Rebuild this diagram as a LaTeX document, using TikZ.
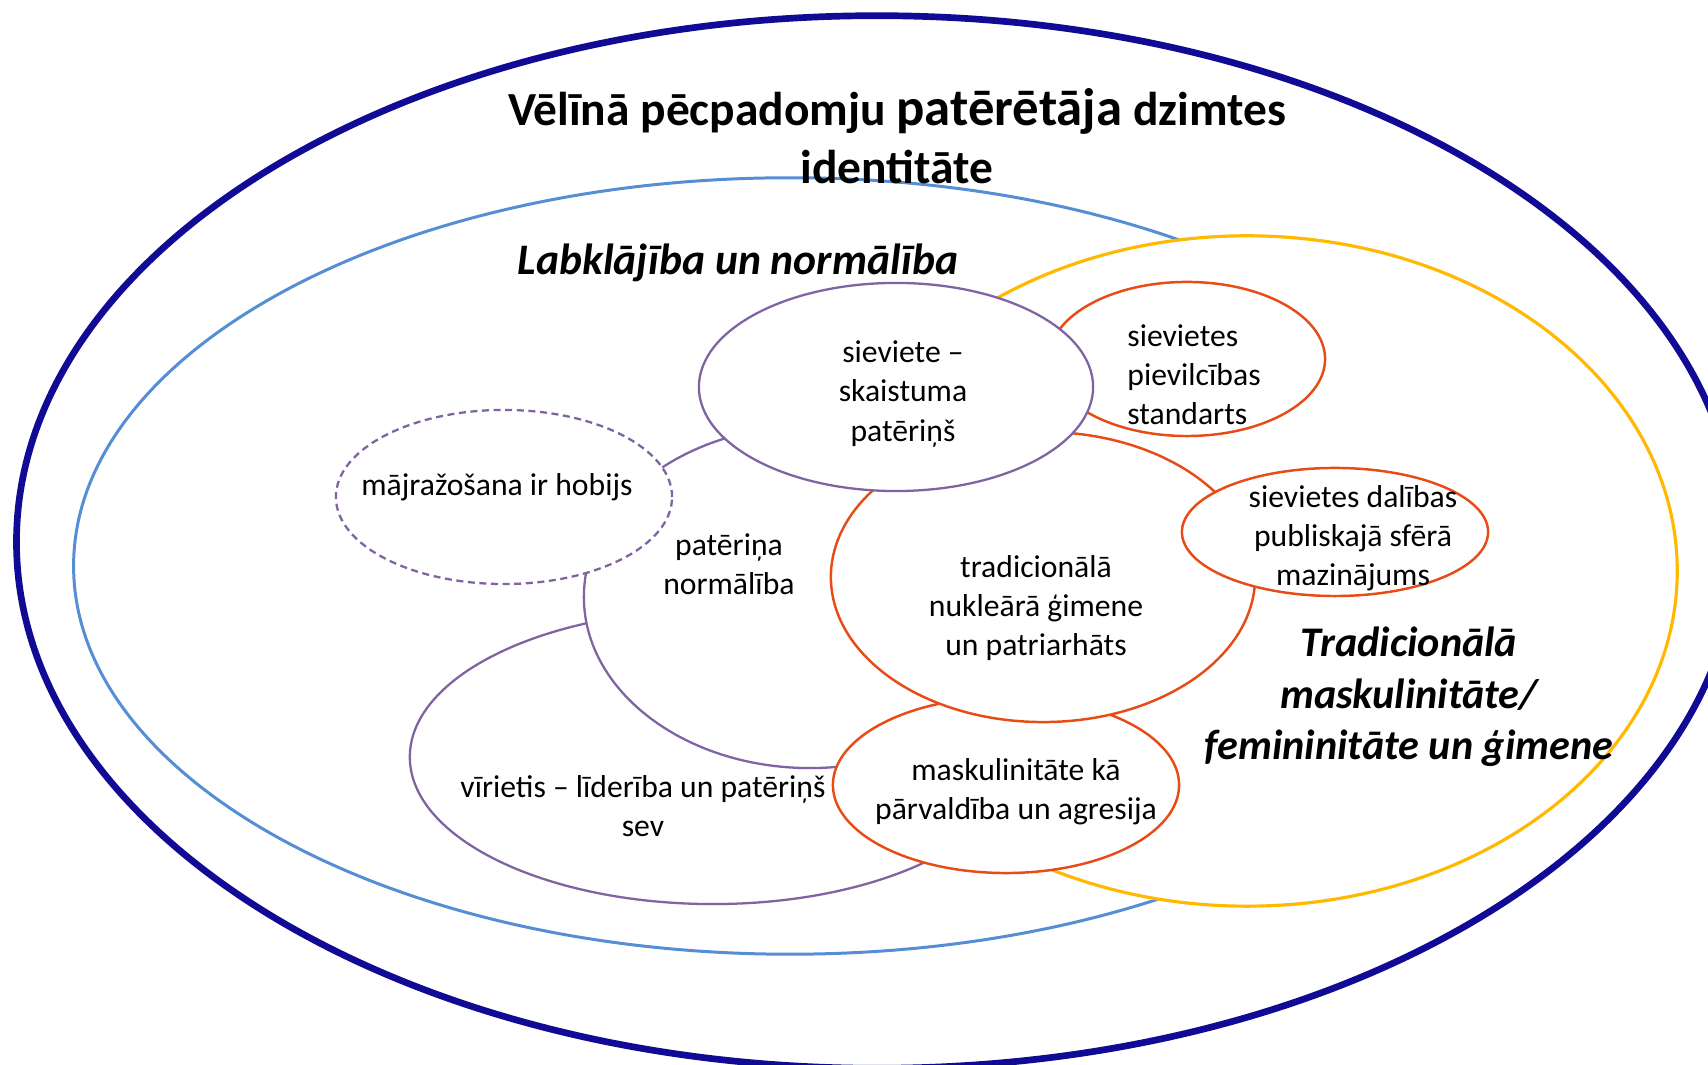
\documentclass[tikz,border=0pt]{standalone}
\usepackage{fontspec}
\setmainfont{Carlito}
\usetikzlibrary{shapes.geometric}

\definecolor{outerblue}{RGB}{16,10,148}
\definecolor{skyblue}{RGB}{85,142,213}
\definecolor{goldline}{RGB}{255,185,0}
\definecolor{redorange}{RGB}{232,76,22}
\definecolor{lilac}{RGB}{128,100,162}

\begin{document}
\begin{tikzpicture}[
    x=0.01cm, y=-0.01cm,
    zone/.style={ellipse, fill=white, inner sep=0pt},
    purplebub/.style={zone, draw=lilac, line width=0.65pt},
    orangebub/.style={zone, draw=redorange, line width=0.7pt},
    bodytext/.style={align=center, font=\fontsize{9}{11.1}\selectfont},
    headtext/.style={align=center,
                     font=\fontsize{12}{14.7}\selectfont\bfseries\itshape}
  ]
  \clip (0,0) rectangle (1708,1065);

  % big areas
  \node[zone, draw=outerblue, line width=1.9pt,
        minimum width=17.2cm, minimum height=10.52cm] (outer) at (877,542) {};
  \node[zone, draw=skyblue, line width=0.85pt,
        minimum width=14.32cm, minimum height=7.76cm] (welfare) at (790,566) {};
  \node[zone, draw=goldline, line width=0.9pt,
        minimum width=8.6cm, minimum height=6.7cm] (tradition) at (1247,571) {};

  % consumption bubbles
  \node[purplebub, minimum width=6.06cm, minimum height=2.94cm]
    (man) at (713,757) {};
  \node[purplebub, minimum width=4.52cm, minimum height=3.42cm]
    (normal) at (810,597) {};
  \node[purplebub, dash pattern=on 2pt off 1.3pt,
        minimum width=3.36cm, minimum height=1.74cm]
    (homemade) at (504,497) {};

  % family bubbles
  \node[orangebub, minimum width=3.46cm, minimum height=1.76cm]
    (masc) at (1006,785) {};
  \node[orangebub, minimum width=4.24cm, minimum height=2.9cm]
    (family) at (1043,577) {};
  \node[orangebub, minimum width=3.06cm, minimum height=1.28cm]
    (public) at (1335,532) {};
  \node[orangebub, minimum width=2.76cm, minimum height=1.54cm]
    (attract) at (1187,359) {};
  \node[purplebub, minimum width=3.94cm, minimum height=2.08cm]
    (beauty) at (896,387) {};

  % texts
  \node[bodytext] (beauty-txt) at (903,394) {sieviete --\\skaistuma\\patēriņš};
  \node[bodytext] (homemade-txt) at (497,487) {mājražošana ir hobijs};
  \node[bodytext] (masc-txt) at (1016,792)
    {maskulinitāte kā\\pārvaldība un agresija};
  \node[bodytext] (man-txt) at (643,806) {vīrietis -- līderība un patēriņš\\sev};
  \node[bodytext] (normal-txt) at (729,564) {patēriņa\\normālība};
  \node[bodytext] (family-txt) at (1036,608)
    {tradicionālā\\nukleārā ģimene\\un patriarhāts};
  \node[bodytext] (public-txt) at (1353,538)
    {sievietes dalības\\publiskajā sfērā\\mazinājums};
  \node[bodytext, align=left, anchor=west] (attract-txt) at (1115,375)
    {sievietes\\pievilcības\\standarts};

  \node[align=center, font=\fontsize{13.5}{16.5}\selectfont\bfseries]
    (title) at (897,136)
    {Vēlīnā pēcpadomju {\fontsize{15}{16.5}\selectfont patērētāja} dzimtes\\identitāte};
  \node[headtext, font=\fontsize{12.4}{15}\selectfont\bfseries\itshape]
    (welfare-txt) at (738,263) {Labklājība un normālība};
  \node[headtext] (tradition-txt) at (1409,697)
    {Tradicionālā\\maskulinitāte/\\femininitāte un ģimene};
\end{tikzpicture}
\end{document}
